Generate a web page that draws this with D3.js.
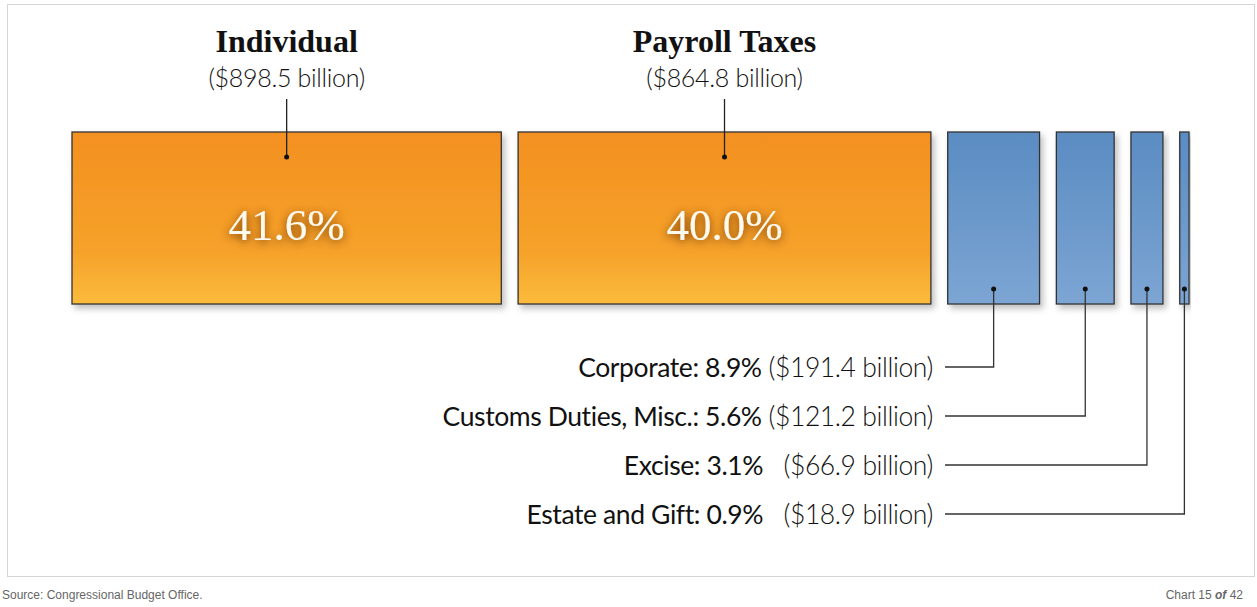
<!DOCTYPE html>
<html>
<head>
<meta charset="utf-8">
<script src="https://cdn.jsdelivr.net/npm/d3@7"></script>
<style>
  body { margin: 0; background: #fff; }
  svg { display: block; }
</style>
</head>
<body>
<div id="vis"></div>
<script>
// federal revenue by source, share of total
let categories = ['Individual', 'Payroll Taxes', 'Corporate', 'Customs Duties, Misc.', 'Excise', 'Estate and Gift'];
let shares = [41.6, 40.0, 8.9, 5.6, 3.1, 0.9];
let amounts = [898.5, 864.8, 191.4, 121.2, 66.9, 18.9];
let source = 'Source: Congressional Budget Office.';

let width = 1257, height = 607;

let svg = d3.select('#vis').append('svg')
  .attr('width', width)
  .attr('height', height);

let defs = svg.append('defs');

let orange = defs.append('linearGradient').attr('id', 'orange').attr('x1', 0).attr('x2', 0).attr('y1', 0).attr('y2', 1);
orange.append('stop').attr('offset', '0%').attr('stop-color', '#f39020');
orange.append('stop').attr('offset', '70%').attr('stop-color', '#f6a22a');
orange.append('stop').attr('offset', '100%').attr('stop-color', '#fbbb3c');

let blue = defs.append('linearGradient').attr('id', 'blue').attr('x1', 0).attr('x2', 0).attr('y1', 0).attr('y2', 1);
blue.append('stop').attr('offset', '0%').attr('stop-color', '#5a8cc2');
blue.append('stop').attr('offset', '100%').attr('stop-color', '#7ca5d3');

let shadow = defs.append('filter').attr('id', 'shadow').attr('x', '-10%').attr('y', '-10%').attr('width', '130%').attr('height', '130%');
shadow.append('feDropShadow').attr('dx', 3).attr('dy', 4).attr('stdDeviation', 3).attr('flood-color', '#000').attr('flood-opacity', 0.25);

let glow = defs.append('filter').attr('id', 'glow').attr('x', '-20%').attr('y', '-40%').attr('width', '140%').attr('height', '180%');
glow.append('feDropShadow').attr('dx', 0).attr('dy', 2).attr('stdDeviation', 5).attr('flood-color', '#6a3000').attr('flood-opacity', 1);

// panel frame
svg.append('rect')
  .attr('x', 7.5).attr('y', 4.5)
  .attr('width', 1247).attr('height', 572)
  .attr('fill', 'none')
  .attr('stroke', '#d4d4d4');

// horizontal scale: percent -> pixel width
let x = d3.scaleLinear().domain([0, 100]).range([0, 1032]);
let gap = 16.8, left = 72;
let barTop = 132, barBottom = 304;

let bars = [];
let cursor = left;
categories.forEach((c, i) => {
  let w = x(shares[i]);
  bars.push({ name: c, share: shares[i], amount: amounts[i], x0: cursor, w: w, big: i < 2 });
  cursor += w + gap;
});

svg.selectAll('rect.bar')
  .data(bars)
  .join('rect')
  .attr('class', 'bar')
  .attr('x', d => d.x0)
  .attr('y', barTop)
  .attr('width', d => d.w)
  .attr('height', barBottom - barTop)
  .attr('fill', d => d.big ? 'url(#orange)' : 'url(#blue)')
  .attr('stroke', '#333')
  .attr('stroke-width', 1.3)
  .attr('filter', 'url(#shadow)');

let big = bars.filter(d => d.big);
let small = bars.filter(d => !d.big);

// big bars: percent inside
svg.selectAll('text.pct')
  .data(big)
  .join('text')
  .attr('class', 'pct')
  .attr('x', d => d.x0 + d.w / 2)
  .attr('y', 240)
  .attr('text-anchor', 'middle')
  .style('font-family', '"Liberation Serif", "DejaVu Serif", serif')
  .attr('font-size', 45)
  .attr('fill', '#fffaf0')
  .attr('filter', 'url(#glow)')
  .text(d => d.share.toFixed(1) + '%');

// titles above
svg.selectAll('text.title')
  .data(big)
  .join('text')
  .attr('class', 'title')
  .attr('x', d => d.x0 + d.w / 2)
  .attr('y', 52)
  .attr('text-anchor', 'middle')
  .style('font-family', '"Liberation Serif", serif')
  .attr('font-weight', 'bold')
  .attr('font-size', 32)
  .attr('fill', '#111')
  .text(d => d.name);

svg.selectAll('text.amt')
  .data(big)
  .join('text')
  .attr('class', 'amt')
  .attr('x', d => d.x0 + d.w / 2)
  .attr('y', 87)
  .attr('text-anchor', 'middle')
  .attr('font-family', 'Lato, sans-serif')
  .attr('font-weight', 300)
  .attr('font-size', 25)
  .attr('letter-spacing', -0.3)
  .attr('fill', '#111')
  .text(d => '($' + d.amount.toFixed(1) + ' billion)');

svg.selectAll('line.lead')
  .data(big)
  .join('line')
  .attr('class', 'lead')
  .attr('x1', d => d.x0 + d.w / 2)
  .attr('x2', d => d.x0 + d.w / 2)
  .attr('y1', 99)
  .attr('y2', 157)
  .attr('stroke', '#222')
  .attr('stroke-width', 1.3);

svg.selectAll('circle.dotTop')
  .data(big)
  .join('circle')
  .attr('class', 'dotTop')
  .attr('cx', d => d.x0 + d.w / 2)
  .attr('cy', 157)
  .attr('r', 2.5)
  .attr('fill', '#111');

// small bars: labels below with elbow leaders
let y = d3.scalePoint().domain(small.map(d => d.name)).range([367, 514]);
let textRight = 933, lineLeft = 945, dotY = 289;

svg.selectAll('path.elbow')
  .data(small)
  .join('path')
  .attr('class', 'elbow')
  .attr('d', d => `M${d.x0 + d.w / 2},${dotY}V${y(d.name)}H${lineLeft}`)
  .attr('fill', 'none')
  .attr('stroke', '#333')
  .attr('stroke-width', 1.3);

svg.selectAll('circle.dotBot')
  .data(small)
  .join('circle')
  .attr('class', 'dotBot')
  .attr('cx', d => d.x0 + d.w / 2)
  .attr('cy', dotY)
  .attr('r', 2.5)
  .attr('fill', '#111');

let lab = svg.selectAll('text.lab')
  .data(small)
  .join('text')
  .attr('class', 'lab')
  .attr('x', textRight)
  .attr('y', d => y(d.name) + 10)
  .attr('text-anchor', 'end')
  .attr('font-family', 'Lato, sans-serif')
  .attr('font-size', 26.5)
  .attr('xml:space', 'preserve')
  .style('white-space', 'pre');

lab.append('tspan')
  .attr('fill', '#111')
  .attr('font-weight', 400)
  .attr('letter-spacing', -0.4)
  .text(d => d.name + ': ' + d.share.toFixed(1) + '%');

lab.append('tspan')
  .attr('fill', '#111')
  .attr('font-weight', 300)
  .attr('letter-spacing', -0.4)
  .text(d => (d.amount < 100 ? '   ' : ' ') + '($' + d.amount.toFixed(1) + ' billion)');

// footer
svg.append('text')
  .attr('x', 2)
  .attr('y', 599)
  .attr('font-family', 'Liberation Sans, Arial, sans-serif')
  .attr('font-size', 12)
  .attr('fill', '#666')
  .text(source);

let chartNo = svg.append('text')
  .attr('x', 1243)
  .attr('y', 599)
  .attr('text-anchor', 'end')
  .attr('font-family', 'Liberation Sans, Arial, sans-serif')
  .attr('font-size', 12)
  .attr('fill', '#666');
chartNo.append('tspan').text('Chart 15 ');
chartNo.append('tspan').attr('font-style', 'italic').attr('font-weight', 'bold').text('of');
chartNo.append('tspan').text(' 42');
</script>
</body>
</html>
